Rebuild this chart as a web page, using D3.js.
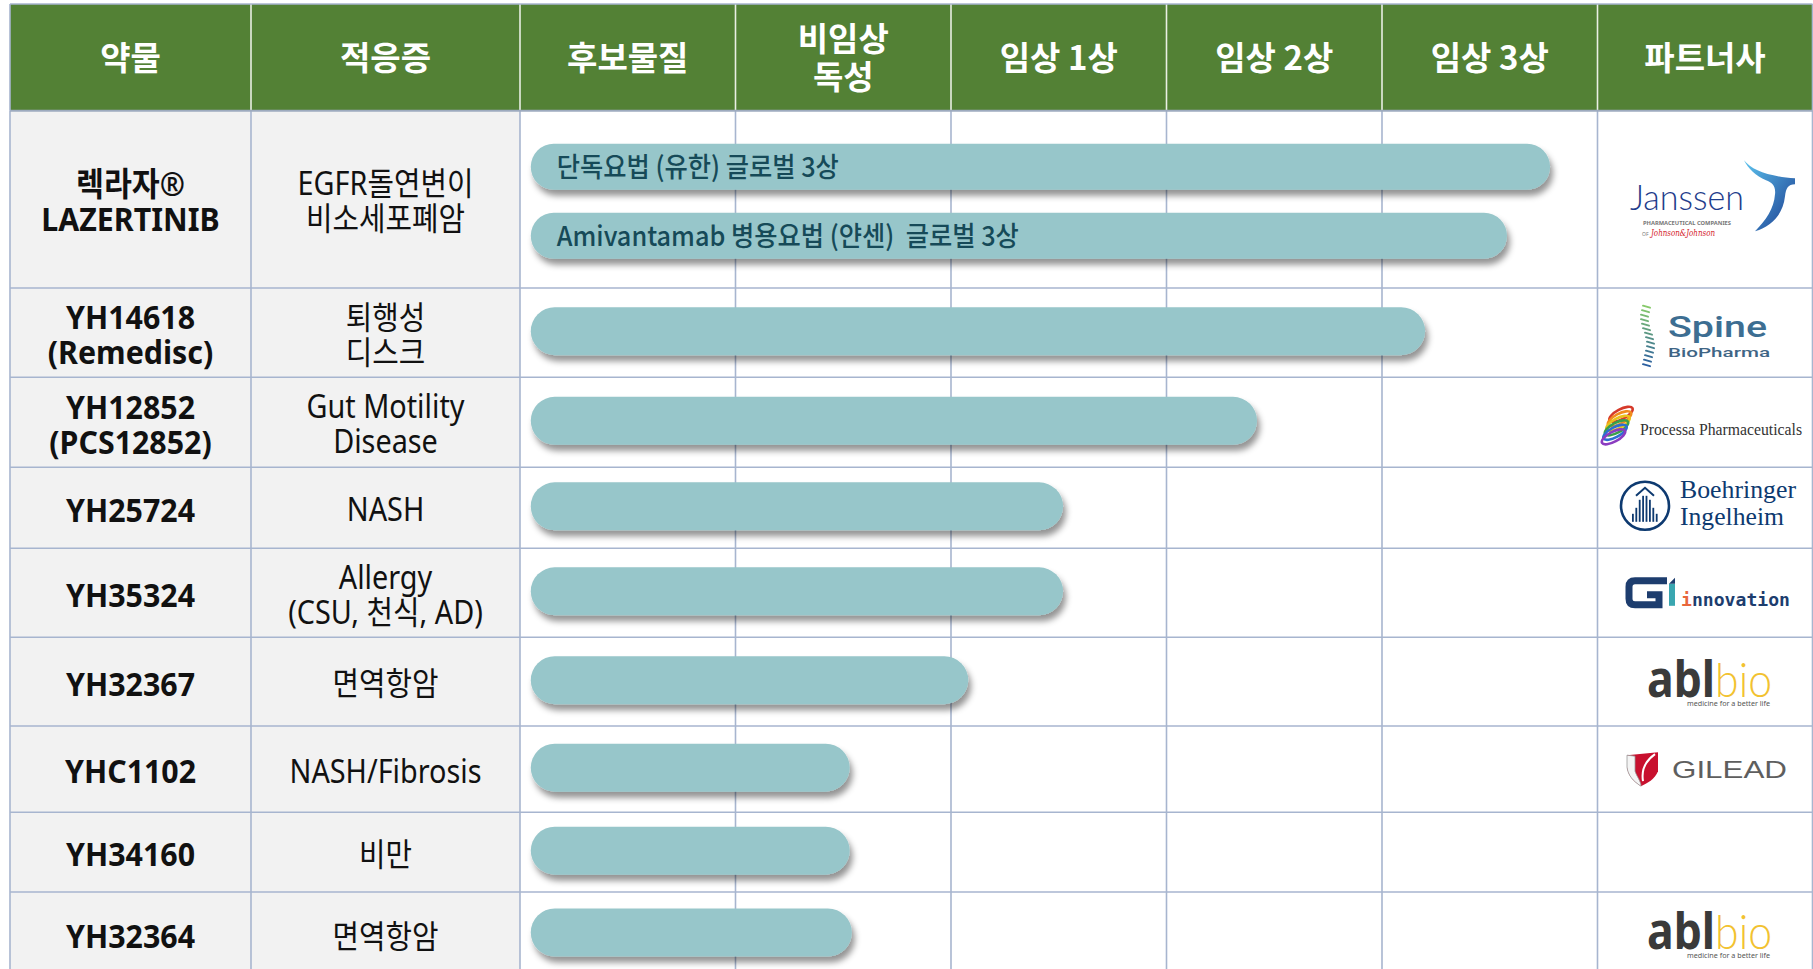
<!DOCTYPE html>
<html>
<head>
<meta charset="utf-8">
<script src="https://cdn.jsdelivr.net/npm/d3@7"></script>
<style>
  html, body { margin: 0; padding: 0; background: #fff; }
  svg { display: block; }
</style>
</head>
<body>
<div id="chart"></div>
<script>
const W = 1813
const H = 969

// data
const phases = ['후보물질', '비임상\n독성', '임상 1상', '임상 2상', '임상 3상']
const drugs = ['렉라자®\nLAZERTINIB', 'YH14618\n(Remedisc)', 'YH12852\n(PCS12852)', 'YH25724', 'YH35324',
  'YH32367', 'YHC1102', 'YH34160', 'YH32364']
const indications = ['EGFR돌연변이\n비소세포폐암', '퇴행성\n디스크', 'Gut Motility\nDisease', 'NASH',
  'Allergy\n(CSU, 천식, AD)', '면역항암', 'NASH/Fibrosis', '비만', '면역항암']
const partners = ['Janssen', 'Spine BioPharma', 'Processa Pharmaceuticals', 'Boehringer Ingelheim',
  'GI Innovation', 'ABL Bio', 'Gilead', '', 'ABL Bio']
// bars: which row, how far along the phase axis (in phase columns), label
const barRow = [0, 0, 1, 2, 3, 4, 5, 6, 7, 8]
const barEnd = [4.78, 4.58, 4.20, 3.42, 2.52, 2.52, 2.08, 1.53, 1.53, 1.54]
const barLabel = ['단독요법 (유한) 글로벌 3상', 'Amivantamab 병용요법 (얀센)  글로벌 3상', '', '', '', '', '', '', '', '']

// layout
const TABLE_L = 10
const TABLE_R = 1812.5
const TABLE_T = 4
const HEAD_B = 110.7
const PHASE_L = 520
const PHASE_R = 1597.5
const ROW_H = [177.3, 89.3, 90, 81, 89, 88.7, 86.3, 79.7, 84]
const BAR_START = 0.05
const BAR_H = 48
const LINE = '#a7b5cf'
const SANS = '"Noto Sans", "Noto Sans CJK KR", sans-serif'
const KR = '"Noto Sans CJK KR", "Noto Sans", sans-serif'

const x = d3.scaleLinear().domain([0, phases.length]).range([PHASE_L, PHASE_R])
const colEdges = [TABLE_L, 251, ...d3.range(phases.length + 1).map(x), TABLE_R]
const headers = ['약물', '적응증', ...phases, '파트너사']
const rowBottom = Array.from(d3.cumsum(ROW_H), d => d + HEAD_B)
const rowTop = [HEAD_B, ...rowBottom.slice(0, -1)]
const rowMid = i => (rowTop[i] + rowBottom[i]) / 2
const tableB = rowBottom[rowBottom.length - 1]

const svg = d3.select('#chart').append('svg')
  .attr('width', W)
  .attr('height', H)
  .style('font-family', SANS)

const defs = svg.append('defs')
defs.append('filter')
  .attr('id', 'shadow')
  .attr('x', '-5%').attr('y', '-40%').attr('width', '115%').attr('height', '200%')
  .append('feDropShadow')
  .attr('dx', 3).attr('dy', 6).attr('stdDeviation', 3)
  .attr('flood-color', '#000').attr('flood-opacity', 0.42)
const jg = defs.append('linearGradient').attr('id', 'jswoosh')
  .attr('x1', 0).attr('y1', 0).attr('x2', 1).attr('y2', 1)
jg.append('stop').attr('offset', '0%').attr('stop-color', '#5cc3ee')
jg.append('stop').attr('offset', '100%').attr('stop-color', '#1b3b8f')

// backgrounds
svg.append('rect')
  .attr('x', TABLE_L).attr('y', TABLE_T)
  .attr('width', TABLE_R - TABLE_L).attr('height', HEAD_B - TABLE_T)
  .attr('fill', '#538135')
svg.selectAll('rect.body')
  .data(drugs)
  .join('rect')
  .attr('class', 'body')
  .attr('x', TABLE_L).attr('y', (d, i) => rowTop[i])
  .attr('width', PHASE_L - TABLE_L).attr('height', (d, i) => ROW_H[i])
  .attr('fill', '#f2f2f2')

// grid
const grid = svg.append('g')
grid.selectAll('line.h')
  .data(rowBottom)
  .join('line')
  .attr('x1', TABLE_L).attr('x2', TABLE_R)
  .attr('y1', d => d).attr('y2', d => d)
  .attr('stroke', LINE).attr('stroke-width', 1.6)
grid.selectAll('line.v')
  .data(colEdges)
  .join('line')
  .attr('x1', d => d).attr('x2', d => d)
  .attr('y1', HEAD_B).attr('y2', tableB)
  .attr('stroke', LINE).attr('stroke-width', 1.6)
grid.selectAll('line.hv')
  .data(colEdges.slice(1, -1))
  .join('line')
  .attr('x1', d => d).attr('x2', d => d)
  .attr('y1', TABLE_T).attr('y2', HEAD_B)
  .attr('stroke', '#e9efe4').attr('stroke-width', 1.6)
grid.append('line')
  .attr('x1', TABLE_L).attr('x2', TABLE_R).attr('y1', HEAD_B).attr('y2', HEAD_B)
  .attr('stroke', '#9eabbf').attr('stroke-width', 2)
grid.append('line')
  .attr('x1', TABLE_L).attr('x2', TABLE_R).attr('y1', TABLE_T).attr('y2', TABLE_T)
  .attr('stroke', LINE).attr('stroke-width', 1.6)
grid.selectAll('line.ov')
  .data([TABLE_L, TABLE_R])
  .join('line')
  .attr('x1', d => d).attr('x2', d => d)
  .attr('y1', TABLE_T).attr('y2', HEAD_B)
  .attr('stroke', LINE).attr('stroke-width', 1.6)

function lines(g, cx, cy, str, lh, sx) {
  const parts = str.split('\n')
  const t = g.append('text')
    .attr('text-anchor', 'middle')
    .attr('transform', `translate(${cx},0) scale(${sx},1)`)
  parts.forEach((p, k) => {
    t.append('tspan')
      .attr('x', 0)
      .attr('y', cy + (k - (parts.length - 1) / 2) * lh)
      .attr('dy', '0.36em')
      .text(p)
  })
  return t
}

// header
const head = svg.append('g')
  .attr('fill', '#fff').attr('font-family', KR).attr('font-weight', 700).attr('font-size', 33)
headers.forEach((h, i) => {
  lines(head, (colEdges[i] + colEdges[i + 1]) / 2, 58, h, 38, 1)
})

// first two columns
const c1 = svg.append('g').attr('font-weight', 700).attr('font-size', 33).attr('fill', '#111')
drugs.forEach((d, i) => lines(c1, (colEdges[0] + colEdges[1]) / 2, rowMid(i) + 2, d, 35, 0.92))
const c2 = svg.append('g').attr('font-size', 32).attr('fill', '#111')
indications.forEach((d, i) => lines(c2, (colEdges[1] + colEdges[2]) / 2, rowMid(i) + 2, d, 35, 0.9))

// bars
const sameRow = i => barRow.filter(v => v === barRow[i]).length
const barY = i => {
  const r = barRow[i]
  const n = sameRow(i)
  const k = barRow.slice(0, i).filter(v => v === r).length
  return n > 1 ? rowMid(r) + 2 + (k - (n - 1) / 2) * 69 : rowMid(r) - 1.5
}
const barH = i => (sameRow(i) > 1 ? 46 : BAR_H)
svg.append('g')
  .selectAll('rect')
  .data(barEnd)
  .join('rect')
  .attr('x', x(BAR_START))
  .attr('y', (d, i) => barY(i) - barH(i) / 2)
  .attr('width', d => x(d) - x(BAR_START))
  .attr('height', (d, i) => barH(i))
  .attr('rx', (d, i) => barH(i) / 2)
  .attr('fill', '#97c6ca')
  .attr('filter', 'url(#shadow)')
svg.append('g')
  .attr('font-family', KR).attr('font-size', 27.5).attr('font-weight', 500).attr('fill', '#164a58')
  .selectAll('text')
  .data(barLabel)
  .join('text')
  .style('white-space', 'pre')
  .attr('transform', (d, i) => `translate(${x(BAR_START) + 26},${barY(i)}) scale(0.92,1)`)
  .attr('dy', '0.36em')
  .text(d => d)

// partner logos, drawn relative to the cell centre
const pcx = (PHASE_R + TABLE_R) / 2
const logo = {
  'Janssen': g => {
    g.append('text').attr('x', -75).attr('y', 11).attr('font-family', 'Lato, "Open Sans", sans-serif')
      .attr('font-weight', 300).attr('font-size', 35).attr('fill', '#1f3d8c')
      .attr('textLength', 114).attr('lengthAdjust', 'spacingAndGlyphs').text('Janssen')
    g.append('text').attr('x', -62).attr('y', 26).attr('font-size', 5.5).attr('font-weight', 700)
      .attr('fill', '#777').attr('textLength', 88).attr('lengthAdjust', 'spacingAndGlyphs')
      .text('PHARMACEUTICAL COMPANIES')
    g.append('text').attr('x', -63).attr('y', 37).attr('font-size', 5).attr('fill', '#777').text('OF')
    g.append('text').attr('x', -54).attr('y', 37).attr('font-family', '"DejaVu Serif", serif')
      .attr('font-style', 'italic').attr('font-size', 9).attr('fill', '#d4202a')
      .attr('textLength', 64).attr('lengthAdjust', 'spacingAndGlyphs').text('Johnson&Johnson')
    g.append('path').attr('fill', 'url(#jswoosh)')
      .attr('d', 'M39,-39 C47,-29 63,-23 90,-21 L90,-15 C83,-15 81,-11 80,-3 C78,15 67,27 50,32 ' +
        'C61,21 69,9 70,-5 C71,-13 67,-17 61,-19 C51,-23 43,-31 39,-39 Z')
  },
  'Spine BioPharma': g => {
    g.append('text').attr('x', -37).attr('y', 4).attr('font-family', 'Roboto, sans-serif')
      .attr('font-weight', 500).attr('font-size', 30).attr('fill', '#3d6e92')
      .attr('textLength', 99).attr('lengthAdjust', 'spacingAndGlyphs').text('Spine')
    g.append('text').attr('x', -37).attr('y', 24).attr('font-family', 'Roboto, sans-serif')
      .attr('font-weight', 500).attr('font-size', 13).attr('fill', '#3f6585')
      .attr('textLength', 102).attr('lengthAdjust', 'spacingAndGlyphs').text('BioPharma')
    const sx = [-59, -60, -61, -61, -60, -59, -57, -56, -55, -55, -56, -57, -58, -59]
    const col = d3.interpolateRgb('#86c96a', '#2b5fa0')
    sx.forEach((v, k) => {
      g.append('line').attr('x1', v - 3).attr('x2', v + 4)
        .attr('y1', -27 + k * 4.5).attr('y2', -25 + k * 4.5)
        .attr('stroke', col(k / (sx.length - 1))).attr('stroke-width', 2).attr('stroke-linecap', 'round')
    })
  },
  'Processa Pharmaceuticals': g => {
    const rc = ['#d63a2a', '#f28c1e', '#e9c21a', '#3aa04a', '#2c6fd0', '#8b3cc0']
    rc.forEach((c, k) => {
      g.append('ellipse').attr('cx', -84 - k * 1.5).attr('cy', -8 + k * 4.5).attr('rx', 13).attr('ry', 5)
        .attr('transform', `rotate(-28,${-84 - k * 1.5},${-8 + k * 4.5})`)
        .attr('fill', 'none').attr('stroke', c).attr('stroke-width', 2.6)
    })
    g.append('text').attr('x', -65).attr('y', 13).attr('font-family', '"Liberation Serif", serif')
      .attr('font-size', 16).attr('fill', '#333')
      .attr('textLength', 162).attr('lengthAdjust', 'spacingAndGlyphs').text('Processa Pharmaceuticals')
  },
  'Boehringer Ingelheim': g => {
    g.append('circle').attr('cx', -60).attr('cy', -2).attr('r', 24)
      .attr('fill', 'none').attr('stroke', '#0e3a70').attr('stroke-width', 2.6)
    const bh = [8, 14, 22, 26, 26, 22, 14, 8]
    bh.forEach((h, k) => {
      g.append('rect').attr('x', -73 + k * 3.4).attr('y', 14 - h).attr('width', 1.8).attr('height', h)
        .attr('fill', '#0e3a70')
    })
    g.append('path').attr('d', 'M-69,-12 L-60,-20 L-51,-12').attr('fill', 'none')
      .attr('stroke', '#0e3a70').attr('stroke-width', 2)
    const serif = g.append('g').attr('font-family', '"Liberation Serif", serif')
      .attr('font-size', 26).attr('fill', '#0e3a70')
    serif.append('text').attr('x', -25).attr('y', -10)
      .attr('textLength', 116).attr('lengthAdjust', 'spacingAndGlyphs').text('Boehringer')
    serif.append('text').attr('x', -25).attr('y', 17)
      .attr('textLength', 104).attr('lengthAdjust', 'spacingAndGlyphs').text('Ingelheim')
  },
  'GI Innovation': g => {
    g.append('path').attr('d', 'M-38,-12 L-70,-12 Q-76,-12 -76,-6 L-76,6 Q-76,12 -70,12 L-46,12 L-46,2 L-58,2')
      .attr('fill', 'none').attr('stroke', '#1d3d6e').attr('stroke-width', 7)
    g.append('rect').attr('x', -36).attr('y', -9).attr('width', 6).attr('height', 22).attr('fill', '#3aa6b0')
    g.append('path').attr('d', 'M-36,-9 L-30,-15 L-30,-9 Z').attr('fill', '#1d3d6e')
    g.append('text').attr('x', -24).attr('y', 13).attr('font-family', '"DejaVu Sans Mono", monospace')
      .attr('font-weight', 700).attr('font-size', 18).attr('fill', '#1d3d6e')
      .attr('textLength', 109).attr('lengthAdjust', 'spacingAndGlyphs')
      .call(t => {
        t.append('tspan').attr('fill', '#e8663c').text('i')
        t.append('tspan').text('nnovation')
      })
  },
  'ABL Bio': g => {
    g.append('text').attr('x', -58).attr('y', 15)
      .attr('textLength', 125).attr('lengthAdjust', 'spacingAndGlyphs')
      .call(t => {
        t.append('tspan').attr('font-family', '"Noto Sans", sans-serif').attr('font-weight', 700)
          .attr('font-size', 50).attr('fill', '#3a3a3a').text('abl')
        t.append('tspan').attr('font-family', 'Lato, sans-serif').attr('font-weight', 300)
          .attr('font-size', 48).attr('fill', '#f2c230').text('bio')
      })
    g.append('text').attr('x', -18).attr('y', 24).attr('font-size', 6.5).attr('fill', '#555')
      .attr('textLength', 83).attr('lengthAdjust', 'spacingAndGlyphs').text('medicine for a better life')
  },
  'Gilead': g => {
    g.append('path').attr('d', 'M-78,-14 L-47,-17 L-47,2 C-50,10 -58,14 -64,17 C-72,12 -77,6 -78,-2 Z')
      .attr('fill', '#c8102e')
    g.append('path').attr('d', 'M-78,-14 L-70,-13 L-70,2 C-68,8 -64,12 -64,17 C-72,12 -77,6 -78,-2 Z')
      .attr('fill', '#f4f4f4').attr('stroke', '#999').attr('stroke-width', 0.8)
    g.append('path').attr('d', 'M-50,-15 C-60,-8 -64,0 -62,12').attr('fill', 'none')
      .attr('stroke', '#fff').attr('stroke-width', 2)
    g.append('text').attr('x', -33).attr('y', 9).attr('font-family', '"Liberation Sans", sans-serif')
      .attr('font-size', 24).attr('fill', '#5e5e5e')
      .attr('textLength', 115).attr('lengthAdjust', 'spacingAndGlyphs').text('GILEAD')
  }
}
partners.forEach((p, i) => {
  if (!logo[p]) return
  const g = svg.append('g').attr('transform', `translate(${pcx},${rowMid(i)})`)
  logo[p](g)
})
</script>
</body>
</html>
